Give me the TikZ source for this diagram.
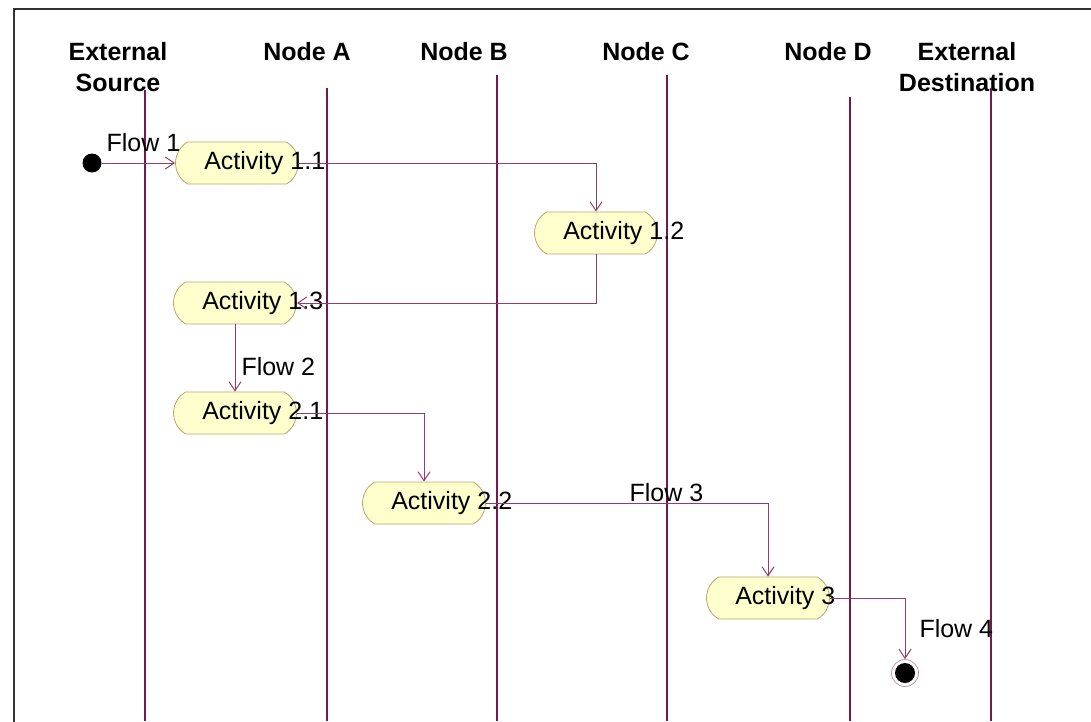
\documentclass[tikz,border=0pt]{standalone}
\usepackage{fontspec}
\setmainfont{Liberation Sans}
\usetikzlibrary{shapes.misc,arrows.meta}

\definecolor{lanecolor}{RGB}{115,25,75}
\definecolor{flowcolor}{RGB}{150,60,105}
\definecolor{actfill}{RGB}{255,255,206}
\definecolor{actdraw}{RGB}{185,165,110}
\newcommand{\diagfont}{\fontsize{25}{31}\selectfont}

\tikzset{
  lane/.style={draw=lanecolor, line width=1.6pt},
  flow/.style={draw=flowcolor, line width=1pt,
    -{Straight Barb[length=9pt,width=12pt]}},
  activity/.style={rounded rectangle, rounded rectangle arc length=120,
    draw=actdraw, line width=0.8pt, fill=actfill,
    minimum width=123pt, minimum height=42pt, inner sep=0pt,
    label={[anchor=west, xshift=29pt, inner sep=0pt, font=\diagfont]west:#1}},
  header/.style={font=\diagfont\bfseries, align=center},
  flowlabel/.style={font=\diagfont, inner sep=0pt}
}

\begin{document}
\begin{tikzpicture}[x=1pt,y=-1pt]
      \useasboundingbox (0,0) rectangle (1091,721);
      \draw[line width=2.4pt, black!80] (14,730) |- (1100,9);

      % swimlane headers
      \node [header] (srcHead) at (118,67.5) {External\\Source};
      \node [header] (nodeAHead) at (307,52) {Node A};
      \node [header] (nodeBHead) at (464,52) {Node B};
      \node [header] (nodeCHead) at (646,52) {Node C};
      \node [header] (nodeDHead) at (828,52) {Node D};
      \node [header] (dstHead) at (967,67.5) {External\\Destination};

      % swimlane lines
      \foreach \x/\y in {145/90, 327/88, 497/75, 667/75, 850/97, 991/88}
        \draw[lane] (\x,\y) -- (\x,721);

      % start and stop
      \node (flowStart) [circle, fill=black, minimum size=19pt, inner
      sep=0pt] at (92,163) {}; \node (flowStop) [circle,
      draw=flowcolor!55, line width=0.8pt, minimum size=27pt, inner
      sep=0pt, path picture={\fill[black] (path picture bounding
        box.center) circle[radius=10pt];}] at (905,673) {};

      % activities
      \node (act11) [activity={Activity 1.1}] at (237,163) {};
      \node (act12) [activity={Activity 1.2}] at (596,233) {};
      \node (act13) [activity={Activity 1.3}] at (235,303) {};
      \node (act21) [activity={Activity 2.1}] at (235,413) {};
      \node (act22) [activity={Activity 2.2}] at (424,503) {};
      \node (act3) [activity={Activity 3}] at (768,598) {};

      % flows
      \draw[flow] (flowStart) -- (act11) node [flowlabel, midway,
      above=11pt, xshift=5pt] {Flow 1};
      \draw[flow] (act11) -| (act12);
      \draw[flow] (act12) |- (act13);
      \draw[flow] (act13) -- (act21) node [flowlabel, midway,
      right=6pt, yshift=-9pt] {Flow 2};
      \draw[flow] (act21) -| (act22);
      \draw[flow] (act22) -| (act3) node [flowlabel, pos=0.32,
      above=1pt] {Flow 3};
      \draw[flow] (act3) -| (flowStop) node [flowlabel, pos=0.75,
      right=14pt] {Flow 4};
    \end{tikzpicture}
\end{document}
